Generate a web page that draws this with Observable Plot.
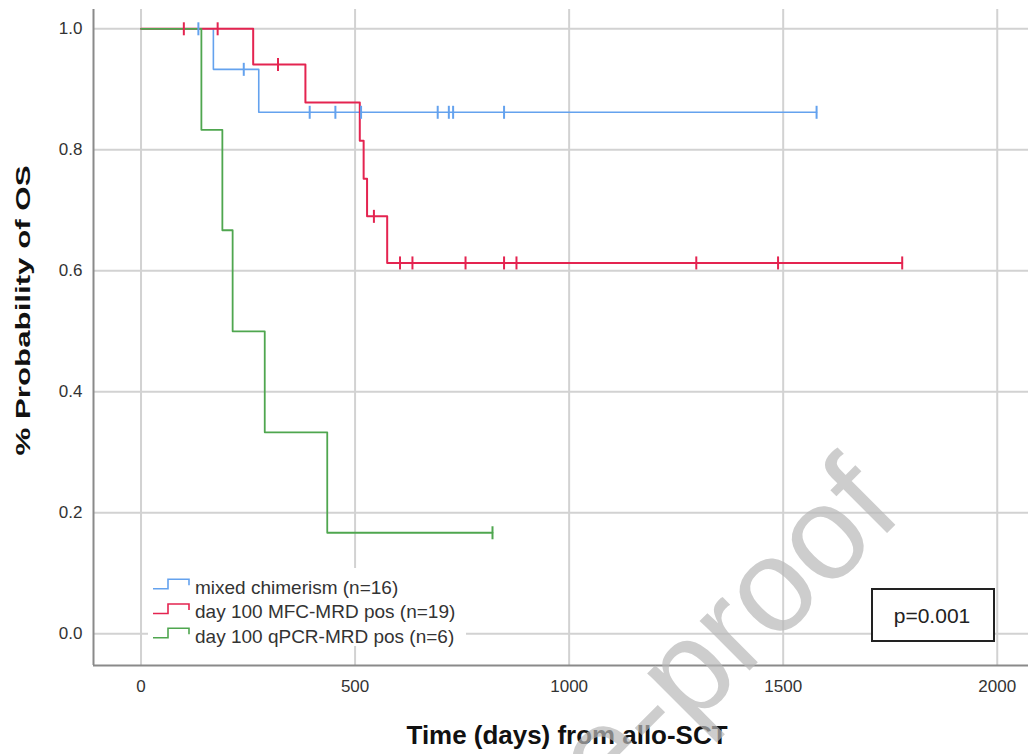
<!DOCTYPE html>
<html>
<head>
<meta charset="utf-8">
<script src="https://cdn.jsdelivr.net/npm/d3@7"></script>
<script src="https://cdn.jsdelivr.net/npm/@observablehq/plot@0.6"></script>
<style>
  html, body { margin: 0; padding: 0; background: #fff; }
  #wrap { position: relative; width: 1028px; height: 754px; overflow: hidden; }
  #over { position: absolute; left: 0; top: 0; pointer-events: none; }
</style>
</head>
<body>
<div id="wrap"></div>
<script>
// ---- data ----
const xTicks = [0, 500, 1000, 1500, 2000];
const yTicks = [0.0, 0.2, 0.4, 0.6, 0.8, 1.0];
const xDomain = [-111, 2073];
const yDomain = [-0.0524, 1.0319];

const groups = ["mixed chimerism (n=16)", "day 100 MFC-MRD pos (n=19)", "day 100 qPCR-MRD pos (n=6)"];
const colors = ["#64a2ee", "#e42450", "#4fa64f"];

const mixedStepTimes = [0, 169, 275];
const mixedStepSurv  = [1, 0.933, 0.862];
const mixedCensor    = [134, 240, 394, 454, 514, 693, 719, 729, 848, 1578];

const mfcStepTimes = [0, 262, 384, 511, 520, 528, 575];
const mfcStepSurv  = [1, 0.941, 0.878, 0.815, 0.752, 0.690, 0.613];
const mfcCensor    = [100, 179, 320, 544, 605, 634, 758, 848, 877, 1297, 1488, 1778];

const qpcrStepTimes = [0, 141, 190, 214, 289, 435];
const qpcrStepSurv  = [1, 0.833, 0.667, 0.5, 0.333, 0.167];
const qpcrCensor    = [821];

const xLabel = "Time (days) from allo-SCT";
const yLabel = "% Probability of OS";
const pText = "p=0.001";
const watermark = "Journal Pre-proof";

// ---- build tables ----
function survAt(times, surv, t) {
  let v = surv[0];
  for (let i = 0; i < times.length; i++) if (times[i] <= t) v = surv[i];
  return v;
}
function series(name, times, surv, cens) {
  const pts = times.map((t, i) => ({g: name, t, s: surv[i]}));
  const end = d3.max(cens);
  pts.push({g: name, t: end, s: survAt(times, surv, end)});
  const c = cens.map(t => ({g: name, t, s: survAt(times, surv, t)}));
  return {pts, c};
}
const S = [
  series(groups[0], mixedStepTimes, mixedStepSurv, mixedCensor),
  series(groups[1], mfcStepTimes, mfcStepSurv, mfcCensor),
  series(groups[2], qpcrStepTimes, qpcrStepSurv, qpcrCensor)
];
const widths = [1.6, 2, 1.8];

const vtick = { draw(context, size) { const r = Math.sqrt(size / Math.PI); context.moveTo(0, -r); context.lineTo(0, r); } };

const marks = [
  Plot.ruleX(xTicks, {stroke: "#d2d2d2", strokeWidth: 2}),
  Plot.ruleY(yTicks, {stroke: "#d2d2d2", strokeWidth: 2}),
  Plot.ruleX([xDomain[0]], {stroke: "#8a8a8a", strokeWidth: 2}),
  Plot.ruleY([yDomain[0]], {stroke: "#8a8a8a", strokeWidth: 2}),
  Plot.axisX({ticks: xTicks, tickSize: 0, tickPadding: 14, label: null, tickFormat: d3.format("d"), fontSize: 17, fill: "#333"}),
  Plot.axisY({ticks: yTicks, tickSize: 0, tickPadding: 11, label: null, tickFormat: d3.format(".1f"), fontSize: 17, fill: "#333"})
];
S.forEach((d, i) => {
  marks.push(Plot.line(d.pts, {x: "t", y: "s", curve: "step-after", stroke: colors[i], strokeWidth: widths[i]}));
});
S.forEach((d, i) => {
  marks.push(Plot.dot(d.c, {x: "t", y: "s", symbol: vtick, r: 6.5, fill: "none", stroke: colors[i], strokeWidth: 2}));
});
marks.push(Plot.text([xLabel], {frameAnchor: "bottom", dy: 70, dx: 6, lineAnchor: "middle", textAnchor: "middle", fontSize: 25, fontWeight: "bold", fill: "#111"}));
marks.push(Plot.text([yLabel], {frameAnchor: "left", dx: -70, dy: -27, rotate: -90, lineAnchor: "middle", textAnchor: "middle", fontSize: 21, fontWeight: "bold", fill: "#111"}));

const chart = Plot.plot({
  width: 1028, height: 754,
  marginLeft: 93, marginRight: 0, marginTop: 9, marginBottom: 89,
  x: {domain: xDomain},
  y: {domain: yDomain},
  style: {fontFamily: "'Liberation Sans', Arial, sans-serif", fontSize: "17px", background: "#fff", color: "#333", overflow: "visible"},
  marks
});
const wrap = document.getElementById("wrap");
wrap.appendChild(chart);

// stretch axis titles to the reference's lengths
d3.select(chart).selectAll("text").each(function() {
  const t = this.textContent;
  if (t === xLabel) d3.select(this).attr("textLength", 321).attr("lengthAdjust", "spacingAndGlyphs");
  if (t === yLabel) d3.select(this).attr("textLength", 290).attr("lengthAdjust", "spacingAndGlyphs");
});

// ---- overlay: legend, p-value box, watermark ----
const over = d3.select(wrap).append("svg").attr("id", "over").attr("width", 1028).attr("height", 754)
  .style("font-family", "'Liberation Sans', Arial, sans-serif");

const leg = over.append("g");
leg.append("rect").attr("x", 148).attr("y", 568).attr("width", 318).attr("height", 78).attr("fill", "#fff");
const rowY = [586.7, 611.5, 635.7];
groups.forEach((g, i) => {
  const y = rowY[i];
  leg.append("path").attr("d", `M153,${y + 2}H168V${y - 7.5}H189V${y - 1.5}`)
    .attr("fill", "none").attr("stroke", colors[i]).attr("stroke-width", 1.6);
  leg.append("text").attr("x", 195).attr("y", y).attr("dy", "0.36em")
    .attr("font-size", 19).attr("fill", "#333").text(g);
});

over.append("rect").attr("x", 872).attr("y", 589).attr("width", 122).attr("height", 52)
  .attr("fill", "#fff").attr("stroke", "#222").attr("stroke-width", 2);
over.append("text").attr("x", 932).attr("y", 615).attr("dy", "0.36em").attr("text-anchor", "middle")
  .attr("font-size", 21).attr("fill", "#222").text(pText);

over.append("text").attr("transform", "translate(905,515) rotate(-45)")
  .attr("text-anchor", "end").attr("font-size", 133).attr("fill", "#b8b8b8").attr("fill-opacity", 0.7)
  .text(watermark);
</script>
</body>
</html>
